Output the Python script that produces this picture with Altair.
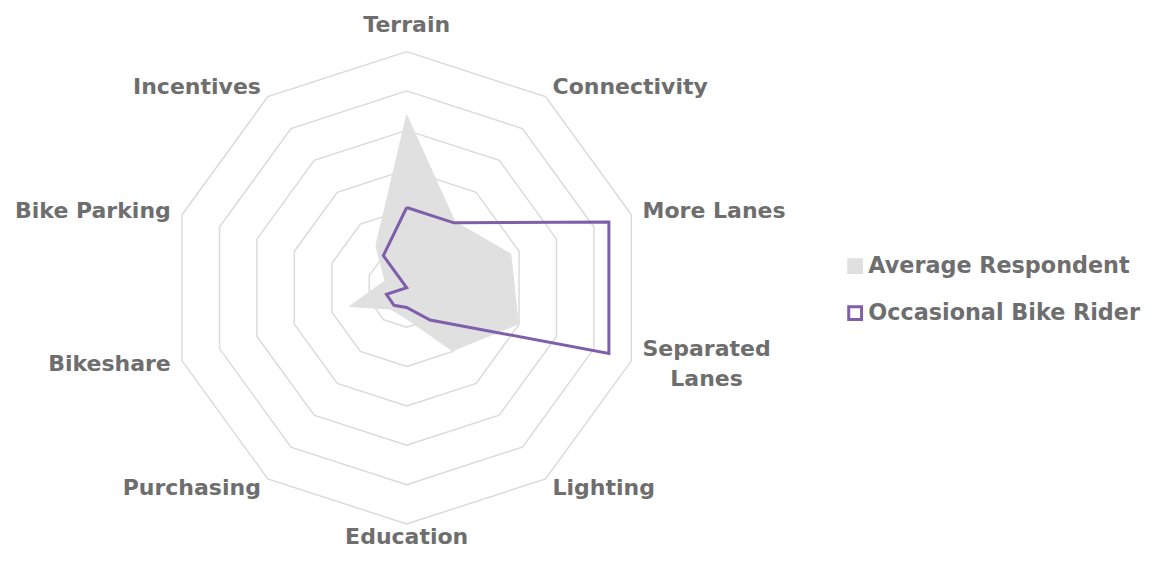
import math
import altair as alt
import pandas as pd

# ---- data ----
categories = ["Terrain", "Connectivity", "More Lanes", "Separated\nLanes", "Lighting",
              "Education", "Purchasing", "Bikeshare", "Bike Parking", "Incentives"]
average_respondent = [4.39, 2.08, 2.78, 2.98, 1.98, 0.79, 0.67, 1.53, 0.58, 1.33]
occasional_rider = [2.04, 2.04, 5.40, 5.40, 1.01, 0.50, 0.55, 0.54, 0.00, 1.01]
ring_ticks = [1, 2, 3, 4, 5, 6]
series_names = ["Average Respondent", "Occasional Bike Rider"]

GRAY_FILL = "#e0e0e0"
PURPLE = "#7f5fa9"
GRID = "#d9d9d9"
TEXT = "#6e6e6e"
FONT = "DejaVu Sans"

W, H = 1138, 545
CX, CY = 398.7, 279.8      # centre of the radar in plot pixels
PX = 39.37                 # pixels per unit
xscale = alt.Scale(domain=[-CX / PX, (W - CX) / PX], zero=False, nice=False)
yscale = alt.Scale(domain=[-(H - CY) / PX, CY / PX], zero=False, nice=False)

n = len(categories)
angles = [2 * math.pi * i / n for i in range(n)]


def polar(r, a):
    return r * math.sin(a), r * math.cos(a)


# grid rings
ring_rows = []
for t in ring_ticks:
    for k in range(n + 1):
        x, y = polar(t, angles[k % n])
        ring_rows.append({"ring": t, "k": k, "x": x, "y": y})
rings_df = pd.DataFrame(ring_rows)


def poly(values):
    rows = []
    for k in range(n + 1):
        x, y = polar(values[k % n], angles[k % n])
        rows.append({"k": k, "x": x, "y": y})
    return pd.DataFrame(rows)


avg_df = poly(average_respondent)
occ_df = poly(occasional_rider)

X = lambda: alt.X("x:Q", scale=xscale, axis=None)
Y = lambda: alt.Y("y:Q", scale=yscale, axis=None)

rings = alt.Chart(rings_df).mark_line(color=GRID, strokeWidth=1.4).encode(
    x=X(), y=Y(), detail="ring:N", order="k:Q")

avg_layer = alt.Chart(avg_df).mark_line(
    stroke=GRAY_FILL, fill=GRAY_FILL, strokeWidth=1).encode(x=X(), y=Y(), order="k:Q")

occ_layer = alt.Chart(occ_df).mark_line(
    color=PURPLE, strokeWidth=3, strokeJoin="miter").encode(x=X(), y=Y(), order="k:Q")

# labels
SIDE_R = 6.3
TOP_R = 6.68
BOTTOM_R = 6.33
lab_rows = []
for c, a in zip(categories, angles):
    deg = round(math.degrees(a))
    if deg == 0:
        grp, r = "tb", TOP_R
    elif deg == 180:
        grp, r = "tb", BOTTOM_R
    elif deg < 180:
        grp, r = ("sep" if "\n" in c else "right"), SIDE_R
    else:
        grp, r = "left", SIDE_R
    x, y = polar(r, a)
    lab_rows.append({"label": c, "x": x, "y": y, "grp": grp})
lab_df = pd.DataFrame(lab_rows)

tstyle = dict(font=FONT, fontSize=22, fontWeight="bold", color=TEXT, baseline="middle",
              lineBreak="\n", lineHeight=30)


def labels(grp, **kw):
    return alt.Chart(lab_df).transform_filter(alt.datum.grp == grp).mark_text(
        **tstyle, **kw).encode(x=X(), y=Y(), text="label:N")


lab_layers = [labels("tb", align="center"), labels("right", align="left"),
              labels("left", align="right"), labels("sep", align="center", dx=64, dy=-15)]

# legend (from a dummy layer)
leg_df = pd.DataFrame({"series": series_names, "x": [0, 0], "y": [0, 0]})
legend_kw = dict(orient="none", legendX=836, legendY=247, title=None,
                 symbolType="square", symbolSize=165, symbolStrokeWidth=3,
                 symbolOpacity=1, labelFont=FONT, labelFontSize=22.3,
                 labelFontWeight="bold", labelColor=TEXT, labelLimit=500,
                 labelOffset=2, rowPadding=21)
leg_layer = alt.Chart(leg_df).mark_square(size=0, strokeWidth=3).encode(
    x=X(), y=Y(),
    fill=alt.Fill("series:N", scale=alt.Scale(domain=series_names, range=[GRAY_FILL, "#ffffff"]),
                  legend=alt.Legend(**legend_kw)),
    stroke=alt.Stroke("series:N", scale=alt.Scale(domain=series_names, range=[GRAY_FILL, PURPLE]),
                      legend=alt.Legend(**legend_kw)),
)

chart = alt.layer(rings, avg_layer, occ_layer, *lab_layers, leg_layer).properties(
    width=W, height=H, padding=0, autosize=alt.AutoSizeParams(type="none"),
    background="white",
).configure_view(stroke=None)

chart.save("out.html", embed_options={"renderer": "svg", "actions": False})
